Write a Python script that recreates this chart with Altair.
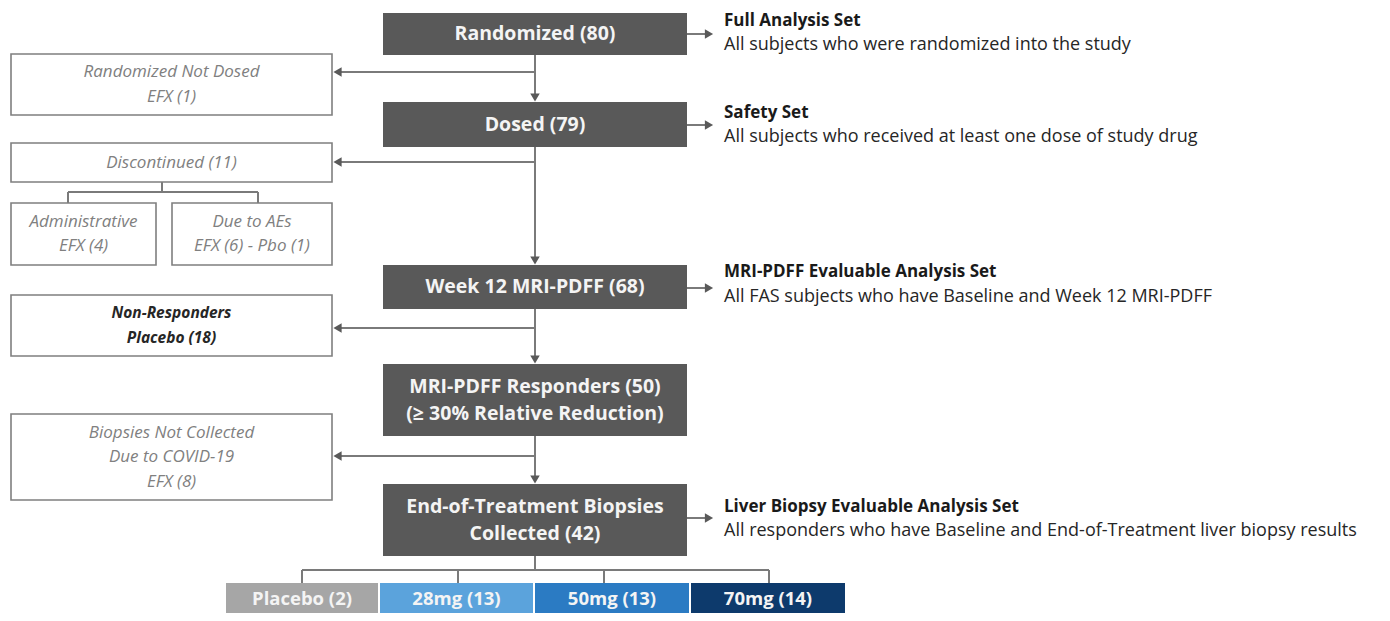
import altair as alt
import pandas as pd

# ---------------- content ----------------
main_lines = [
    ["Randomized (80)"],
    ["Dosed (79)"],
    ["Week 12 MRI-PDFF (68)"],
    ["MRI-PDFF Responders (50)", "(≥ 30% Relative Reduction)"],
    ["End-of-Treatment Biopsies", "Collected (42)"],
]
set_titles = [
    "Full Analysis Set",
    "Safety Set",
    "MRI-PDFF Evaluable Analysis Set",
    "Liver Biopsy Evaluable Analysis Set",
]
set_descs = [
    "All subjects who were randomized into the study",
    "All subjects who received at least one dose of study drug",
    "All FAS subjects who have Baseline and Week 12 MRI-PDFF",
    "All responders who have Baseline and End-of-Treatment liver biopsy results",
]
excl_lines = [
    ["Randomized Not Dosed", "EFX (1)"],
    ["Discontinued (11)"],
    ["Administrative", "EFX (4)"],
    ["Due to AEs", "EFX (6) - Pbo (1)"],
    ["Non-Responders", "Placebo (18)"],
    ["Biopsies Not Collected", "Due to COVID-19", "EFX (8)"],
]
excl_bold = [False, False, False, False, True, False]
arm_names = ["Placebo", "28mg", "50mg", "70mg"]
arm_counts = [2, 13, 13, 14]

# ---------------- layout (pixel grid of the diagram) ----------------
main_box = [(383, 687, 13, 55), (383, 687, 102, 147), (383, 687, 265, 309),
            (383, 687, 364, 436), (383, 687, 484, 556)]
excl_box = [(11, 332, 54, 115), (11, 332, 143, 182), (11, 156, 203, 265),
            (172, 332, 203, 265), (11, 332, 295, 356), (11, 332, 414, 500)]
arm_box = [(226, 378, 583, 630), (380, 533, 583, 630),
           (535, 689, 583, 630), (691, 845, 583, 630)]
arm_colors = ["#a6a6a6", "#5ba3dc", "#2b7bc3", "#0d3a6c"]
cx = 535
branch_y = [72, 162, 328, 456]
right_y = [34, 125, 288, 518]
set_head_y = [21, 113, 272, 507]
set_desc_y = [45, 137, 297, 531]
arm_tick_x = [302, 458, 604, 769]

GRAY = "#7a7a7a"
DARK = "#595959"
FONT = "Open Sans"

# ---------------- tables ----------------
main_df = pd.DataFrame([dict(x1=a, x2=b, y1=c, y2=d) for a, b, c, d in main_box])
excl_df = pd.DataFrame([dict(x1=a, x2=b, y1=c, y2=d) for a, b, c, d in excl_box])
arm_df = pd.DataFrame([dict(x1=a, x2=b, y1=c, y2=d, arm=n, label=f"{n} ({k})",
                            tx=(a + b) / 2, ty=599)
                       for (a, b, c, d), n, k in zip(arm_box, arm_names, arm_counts)])

rows = []
for (a, b, c, d), lines in zip(main_box, main_lines):
    mid = (c + d) / 2
    n = len(lines)
    for i, t in enumerate(lines):
        rows.append(dict(x=(a + b) / 2, y=mid + (i - (n - 1) / 2) * 27, text=t, style="main"))
for (a, b, c, d), lines, bold in zip(excl_box, excl_lines, excl_bold):
    mid = (c + d) / 2
    n = len(lines)
    for i, t in enumerate(lines):
        rows.append(dict(x=(a + b) / 2, y=mid + (i - (n - 1) / 2) * 24.5, text=t,
                         style="nonresp" if bold else "excl"))
for t, y in zip(set_titles, set_head_y):
    rows.append(dict(x=724, y=y, text=t, style="head"))
for t, y in zip(set_descs, set_desc_y):
    rows.append(dict(x=724, y=y, text=t, style="desc"))
text_df = pd.DataFrame(rows)

segs = []
# central spine
for y_from, y_to in [(55, 98), (147, 260), (309, 359), (436, 479), (556, 570)]:
    segs.append((cx, y_from, cx, y_to))
# left branches
for y in branch_y:
    segs.append((cx, y, 338, y))
# right arrows
for y in right_y:
    segs.append((687, y, 706, y))
# discontinued tree
segs += [(162, 182, 162, 192), (68, 192, 258, 192), (68, 192, 68, 203), (258, 192, 258, 203)]
# arm tree
segs.append((arm_tick_x[0], 570, arm_tick_x[-1], 570))
for x in arm_tick_x:
    segs.append((x, 570, x, 583))
seg_df = pd.DataFrame(segs, columns=["x1", "y1", "x2", "y2"])

heads = []
for top in [102, 265, 364, 484]:
    heads.append(dict(x=cx, y=top - 4.5, shape="triangle-down"))
for y in branch_y:
    heads.append(dict(x=337.5, y=y, shape="triangle-left"))
for y in right_y:
    heads.append(dict(x=709, y=y, shape="triangle-right"))
head_df = pd.DataFrame(heads)

# ---------------- scales ----------------
xs = alt.Scale(domain=[8, 1382], nice=False, zero=False)
ys = alt.Scale(domain=[8, 613], reverse=True, nice=False, zero=False)


def X(f):
    return alt.X(f, type="quantitative", scale=xs, axis=None)


def Y(f):
    return alt.Y(f, type="quantitative", scale=ys, axis=None)


lines_layer = alt.Chart(seg_df).mark_rule(color=GRAY, strokeWidth=2).encode(
    x=X("x1"), x2="x2", y=Y("y1"), y2="y2")

main_rects = alt.Chart(main_df).mark_rect(color=DARK).encode(
    x=X("x1"), x2="x2", y=Y("y1"), y2="y2")

excl_rects = alt.Chart(excl_df).mark_rect(fill="white", stroke="#7f7f7f", strokeWidth=1.6).encode(
    x=X("x1"), x2="x2", y=Y("y1"), y2="y2")

arm_rects = alt.Chart(arm_df).mark_rect().encode(
    x=X("x1"), x2="x2", y=Y("y1"), y2="y2",
    color=alt.Color("arm:N", scale=alt.Scale(domain=arm_names, range=arm_colors), legend=None))

arm_text = alt.Chart(arm_df).mark_text(font=FONT, fontSize=18.5, fontWeight="bold",
                                       color="#f4f4f4", baseline="middle").encode(
    x=X("tx"), y=Y("ty"), text="label:N")

heads_layer = alt.Chart(head_df).mark_point(filled=True, size=90, color=DARK, opacity=1).encode(
    x=X("x"), y=Y("y"),
    shape=alt.Shape("shape:N", scale=alt.Scale(domain=["triangle-down", "triangle-left", "triangle-right"],
                                                 range=["triangle-down", "triangle-left", "triangle-right"]),
                    legend=None))


def txt(style, **kw):
    return alt.Chart(text_df).transform_filter(alt.datum.style == style).mark_text(
        font=FONT, baseline="middle", **kw).encode(x=X("x"), y=Y("y"), text="text:N")


main_text = txt("main", fontSize=19.5, fontWeight="bold", color="#f4f4f4")
excl_text = txt("excl", fontSize=17, fontStyle="italic", color="#808080")
nonresp_text = txt("nonresp", fontSize=15.5, fontStyle="italic", fontWeight="bold", color="#262626")
head_text = txt("head", fontSize=17, fontWeight="bold", color="#1a1a1a", align="left")
desc_text = txt("desc", fontSize=18, color="#262626", align="left")

chart = alt.layer(
    lines_layer, main_rects, excl_rects, arm_rects, heads_layer,
    main_text, excl_text, nonresp_text, head_text, desc_text, arm_text,
).properties(width=1374, height=605, padding=0, autosize="none").configure_view(stroke=None)

chart.save("out.html", embed_options={"renderer": "svg", "actions": False})
